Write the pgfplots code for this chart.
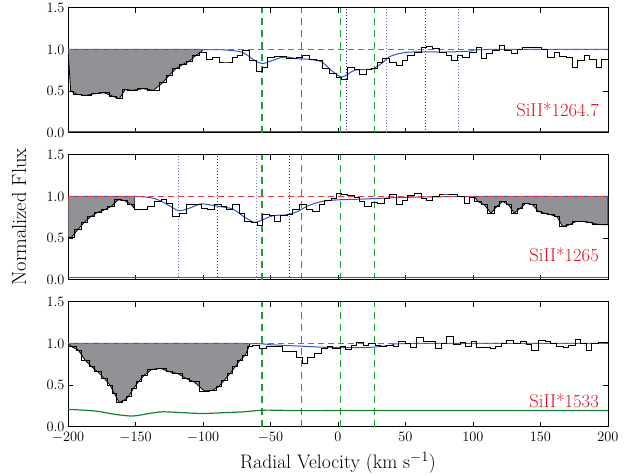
\documentclass[border=0pt]{standalone}
\usepackage{pgfplots}
\pgfplotsset{compat=1.18}
\definecolor{fillgray}{RGB}{145,145,150}
\definecolor{refred}{RGB}{240,60,60}
\definecolor{labred}{RGB}{225,15,35}
\definecolor{modblue}{RGB}{45,85,200}
\definecolor{vgreen}{RGB}{25,160,60}
\definecolor{egreen}{RGB}{20,130,50}
\definecolor{dotlight}{RGB}{120,120,210}
\definecolor{dotdark}{RGB}{50,50,120}
\pgfplotsset{
  panel/.style={
    width=540bp, height=125bp, scale only axis,
    xmin=-200, xmax=200, ymin=0, ymax=1.5,
    xtick={-200,-150,...,200}, ytick={0,0.5,1,1.5},
    xtick pos=both, ytick pos=both,
    xticklabel pos=lower, yticklabel pos=left,
    tick align=inside, major tick length=5bp,
    axis line style={line width=0.9bp},
    every tick/.style={black, line width=0.8bp},
    yticklabel style={/pgf/number format/fixed, /pgf/number format/fixed zerofill, /pgf/number format/precision=1},
    xticklabel style={yshift=-1.5bp},
    tick label style={font=\fontsize{13.6}{15}\selectfont},
    clip=true,
  },
  spec/.style={const plot, black, line width=0.8bp},
  fillreg/.style={fill=fillgray, draw=black, line width=0.8bp},
  cont/.style={refred, line width=1.5bp, dash pattern=on 6bp off 4bp},
  model/.style={modblue, line width=1bp, smooth, tension=0.5},
  vline/.style={vgreen, line width=1.6bp, dash pattern=on 7bp off 5bp},
  dlight/.style={dotlight, line width=1bp, dotted},
  ddark/.style={dotdark, line width=1bp, dotted},
  err/.style={egreen, line width=1.2bp},
}
\begin{document}
\begin{tikzpicture}
\useasboundingbox (0,0) rectangle (639bp,-475bp);
% ---------------- Panel 1 ----------------
\begin{axis}[panel, at={(68bp,-132.83bp)}, xticklabels={}]
\addplot[fillreg] coordinates {(-200,1.0) (-198,0.50) (-193,0.46) (-186.7,0.45) (-180,0.47) (-173,0.48) (-167,0.44) (-162,0.41) (-157.6,0.52) (-152,0.51) (-144.7,0.53) (-136.7,0.51) (-130,0.60) (-125,0.69) (-120,0.77) (-115,0.82) (-110,0.86) (-105.2,0.93) (-101.5,0.97) (-100,1.0)};
\addplot[vline] coordinates {(-56.5,0) (-56.5,1.5)};
\addplot[vline] coordinates {(-26.9,0) (-26.9,1.5)};
\addplot[vline] coordinates {(1.85,0) (1.85,1.5)};
\addplot[vline] coordinates {(27.04,0) (27.04,1.5)};
\addplot[ddark] coordinates {(6.4,0) (6.4,1.5)};
\addplot[dlight] coordinates {(36,0) (36,1.5)};
\addplot[ddark] coordinates {(65,0) (65,1.5)};
\addplot[dlight] coordinates {(89.6,0) (89.6,1.5)};
\addplot[err] coordinates {(-200,0.02) (200,0.02)};
\addplot[model] coordinates {(-200,1) (-100,1) (-80,0.99) (-70,0.96) (-62,0.87) (-56,0.83) (-50,0.86) (-40,0.91) (-30,0.89) (-20,0.88) (-12,0.85) (-5,0.75) (0,0.69) (3,0.67) (7,0.70) (12,0.75) (20,0.76) (26,0.77) (32,0.83) (38,0.91) (45,0.95) (55,0.97) (80,0.97) (97,0.98) (110,1.0) (200,1.0)};
\addplot[cont] coordinates {(-200,1) (200,1)};
\addplot[spec] coordinates {(-200,0.50) (-196,0.46) (-190.4,0.45) (-183,0.47) (-176.8,0.48) (-169.4,0.44) (-164.5,0.41) (-159.5,0.52) (-155.8,0.51) (-148.4,0.53) (-141,0.51) (-132.4,0.60) (-127.4,0.69) (-122.5,0.77) (-117.5,0.82) (-112.6,0.86) (-107.7,0.93) (-102.7,0.97) (-97.8,0.88) (-92.9,0.90) (-87.9,0.85) (-83,0.85) (-78,0.91) (-74.4,0.93) (-70.6,0.99) (-65.7,0.87) (-60.8,0.74) (-55.8,0.79) (-52.1,0.91) (-47.2,0.92) (-38.5,0.89) (-31.1,0.90) (-26.2,0.93) (-21.3,0.88) (-16.3,0.87) (-11.4,0.77) (-6.5,0.71) (-1.5,0.67) (2.2,0.64) (7.2,0.78) (12.1,0.76) (15.8,0.70) (20.7,0.76) (24.4,0.77) (29.4,0.84) (33.1,0.89) (38,0.84) (43,0.81) (47.9,0.87) (51.6,0.93) (56.5,0.97) (61.5,1.02) (65.2,1.04) (70.1,1.01) (75,0.97) (80,0.93) (83.7,0.87) (88.6,0.93) (92.3,0.91) (97.3,0.97) (102.2,1.02) (105.9,0.89) (109.6,0.95) (114.6,0.99) (119.5,1.05) (123.2,0.99) (128.1,0.95) (133.1,1.00) (136.8,1.03) (141.7,1.02) (146.7,1.03) (150.4,1.00) (155.3,0.91) (160.2,0.97) (164,0.92) (168.9,0.91) (173.8,0.78) (177.5,0.87) (182.5,0.93) (186.2,0.88) (191.1,0.79) (194.8,0.88) (200,0.88)};
\node[anchor=east, inner sep=0pt, text=labred, font=\fontsize{18.6}{20}\selectfont] at (axis cs:193.3,0.28) {SiII*1264.7};
\end{axis}
% ---------------- Panel 2 ----------------
\begin{axis}[panel, at={(68bp,-279.83bp)}, xticklabels={}]
\addplot[fillreg] coordinates {(-200,1.0) (-200,0.51) (-197.5,0.51) (-192.8,0.60) (-188,0.69) (-183,0.76) (-178,0.81) (-173,0.84) (-168,0.88) (-163,0.96) (-158,0.95) (-153,0.90) (-151,0.86) (-151,1.0)};
\addplot[fillreg] coordinates {(101,1.0) (103.5,0.94) (108.4,0.90) (113.3,0.80) (117.7,0.88) (122,0.94) (126.3,0.90) (130.6,0.80) (135,0.86) (139.3,0.92) (144.2,0.90) (148.6,0.82) (152.9,0.80) (157.8,0.78) (162.1,0.76) (166.5,0.64) (171.4,0.66) (176.3,0.70) (181.3,0.70) (186.2,0.69) (191.1,0.67) (196.8,0.66) (200,0.66) (200,1.0)};
\addplot[vline] coordinates {(-56.5,0) (-56.5,1.5)};
\addplot[vline] coordinates {(-26.9,0) (-26.9,1.5)};
\addplot[vline] coordinates {(1.85,0) (1.85,1.5)};
\addplot[vline] coordinates {(27.04,0) (27.04,1.5)};
\addplot[dlight] coordinates {(-118.3,0) (-118.3,1.5)};
\addplot[ddark] coordinates {(-89.4,0) (-89.4,1.5)};
\addplot[dlight] coordinates {(-60.7,0) (-60.7,1.5)};
\addplot[ddark] coordinates {(-36,0) (-36,1.5)};
\addplot[err] coordinates {(-200,0.03) (200,0.03)};
\addplot[model] coordinates {(-200,1) (-150,1) (-135,0.97) (-125,0.89) (-118,0.83) (-110,0.86) (-102,0.91) (-95,0.90) (-88,0.88) (-78,0.85) (-70,0.76) (-62,0.69) (-56,0.72) (-48,0.77) (-38,0.78) (-30,0.82) (-22,0.89) (-12,0.94) (0,0.96) (20,0.97) (50,0.99) (100,1.0) (200,1.0)};
\addplot[cont] coordinates {(-200,1) (200,1)};
\addplot[spec] coordinates {(-200,0.51) (-195.3,0.60) (-190.4,0.69) (-185.5,0.76) (-180.5,0.81) (-175.6,0.84) (-170.6,0.88) (-165.7,0.96) (-160.8,0.95) (-155.8,0.90) (-150.9,0.84) (-141,0.88) (-136.1,0.94) (-131.1,0.97) (-127.4,0.92) (-122.5,0.76) (-117.5,0.80) (-112.6,0.90) (-107.7,0.91) (-101.5,0.86) (-96.6,0.85) (-91.6,0.91) (-86.7,0.88) (-83,0.85) (-78,0.90) (-73.1,0.80) (-69.4,0.70) (-64.5,0.69) (-59.5,0.65) (-55.8,0.79) (-50.9,0.77) (-47.2,0.70) (-42.3,0.77) (-37.3,0.79) (-33.6,0.84) (-28.7,0.90) (-23.7,0.84) (-18.8,0.82) (-13.9,0.90) (-10.2,0.95) (-5.2,0.98) (-1.5,1.04) (2.2,1.02) (7.2,1.01) (12.1,0.99) (15.8,0.94) (19.5,0.88) (24.4,0.93) (29.4,0.92) (34.3,0.98) (38,1.02) (43,0.90) (47.9,0.95) (51.6,1.01) (56.5,1.04) (61.5,0.98) (65.2,0.95) (70.1,1.00) (75,1.03) (80,1.03) (84.9,1.02) (88.6,1.00) (93.6,0.92) (97.3,0.99) (101,0.94) (105.9,0.90) (110.9,0.80) (115.8,0.88) (119.5,0.94) (124.4,0.90) (128.1,0.80) (133.1,0.86) (136.8,0.92) (141.7,0.90) (146.7,0.82) (150.4,0.80) (155.3,0.78) (160.2,0.76) (164,0.64) (168.9,0.66) (173.8,0.70) (178.8,0.70) (183.7,0.69) (188.6,0.67) (193.6,0.66) (200,0.66)};
\node[anchor=east, inner sep=0pt, text=labred, font=\fontsize{18.6}{20}\selectfont] at (axis cs:193.3,0.30) {SiII*1265};
\end{axis}
% ---------------- Panel 3 ----------------
\begin{axis}[panel, at={(68bp,-426.83bp)}]
\addplot[fillreg] coordinates {(-200,1.0) (-197,0.96) (-192.3,0.92) (-187.3,0.80) (-182.4,0.72) (-178,0.66) (-173,0.58) (-168.8,0.50) (-165.7,0.40) (-162,0.29) (-158.3,0.32) (-155.3,0.36) (-151.5,0.46) (-147.8,0.54) (-143.5,0.62) (-138,0.69) (-131,0.70) (-125,0.66) (-118.8,0.64) (-112.6,0.58) (-106.5,0.54) (-99,0.43) (-92.8,0.44) (-88.5,0.48) (-84.2,0.56) (-80,0.64) (-76.2,0.72) (-72.5,0.80) (-68.7,0.86) (-66,0.96) (-65,1.0)};
\addplot[vline] coordinates {(-56.5,0) (-56.5,1.5)};
\addplot[vline] coordinates {(-26.9,0) (-26.9,1.5)};
\addplot[vline] coordinates {(1.85,0) (1.85,1.5)};
\addplot[vline] coordinates {(27.04,0) (27.04,1.5)};
\addplot[err, smooth] coordinates {(-200,0.21) (-180,0.19) (-165,0.15) (-152,0.13) (-140,0.16) (-130,0.18) (-115,0.17) (-100,0.16) (-85,0.17) (-70,0.18) (-55,0.20) (-30,0.195) (0,0.195) (50,0.195) (200,0.195)};
\addplot[model] coordinates {(-200,1) (-70,1) (-50,0.985) (-30,0.97) (-10,0.955) (10,0.95) (25,0.955) (40,0.98) (55,1.0) (200,1.0)};
\addplot[cont] coordinates {(-200,1) (200,1)};
\addplot[spec] coordinates {(-200,0.96) (-194.1,0.92) (-190.4,0.80) (-184.2,0.72) (-180.5,0.66) (-175.6,0.58) (-170.6,0.50) (-166.9,0.40) (-164.5,0.29) (-159.5,0.32) (-157.1,0.36) (-153.4,0.46) (-149.7,0.54) (-146,0.62) (-141,0.69) (-134.8,0.70) (-127.4,0.66) (-122.5,0.64) (-115.1,0.58) (-110.2,0.54) (-102.7,0.43) (-95.3,0.44) (-90.4,0.48) (-86.7,0.56) (-81.8,0.64) (-78,0.72) (-74.4,0.80) (-70.6,0.86) (-66.9,0.96) (-63.2,0.98) (-58.3,0.94) (-53.4,0.96) (-48.4,0.97) (-41,0.90) (-36.1,0.90) (-31.1,0.83) (-26.2,0.76) (-22.5,0.83) (-17.6,0.88) (-12.6,0.94) (-7.7,0.96) (-4,0.94) (1.5,0.96) (5.2,0.93) (10.1,0.98) (13.8,1.01) (18.8,0.98) (22.5,1.00) (27.4,0.98) (31.1,0.96) (36,0.98) (41,0.97) (44.7,1.03) (49.6,1.00) (53.3,0.95) (58.3,1.07) (63.2,1.02) (68.1,1.03) (71.8,0.94) (76.8,1.00) (80.5,1.08) (85.4,0.99) (90.4,1.01) (94.1,0.97) (99,1.02) (102.7,0.95) (107.6,0.95) (112.6,0.94) (116.3,0.97) (121.2,1.00) (124.9,1.04) (129.9,1.00) (134.8,1.02) (139.7,0.99) (143.4,0.92) (148.4,1.04) (153.3,1.02) (157,1.00) (161.9,0.97) (166.9,0.95) (170.6,0.98) (175.5,1.05) (179.2,1.00) (184.2,0.92) (187.9,1.00) (192.8,1.01) (200,1.01)};
\node[anchor=east, inner sep=0pt, text=labred, font=\fontsize{18.6}{20}\selectfont] at (axis cs:193.3,0.31) {SiII*1533};
\end{axis}
\node[font=\fontsize{19.6}{21}\selectfont] at (338bp,-463bp) {Radial Velocity (km s$^{-1}$)};
\node[rotate=90, font=\fontsize{20.5}{22}\selectfont] at (19bp,-217bp) {Normalized Flux};
\end{tikzpicture}
\end{document}
